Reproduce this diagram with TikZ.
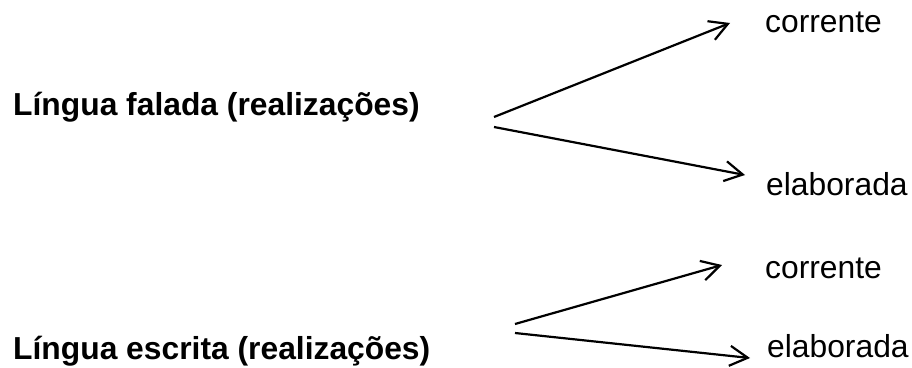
\documentclass[tikz,border=0pt]{standalone}
\usepackage{fontspec}
\setmainfont{Liberation Sans}
\usetikzlibrary{arrows.meta}

\begin{document}
\begin{tikzpicture}[%
  x=1pt, y=-1pt,
  title/.style={anchor=base west, inner sep=0pt, font=\fontsize{31.8}{38}\selectfont\bfseries},
  kind/.style={anchor=base west, inner sep=0pt, font=\fontsize{31.8}{38}\selectfont},
  branch/.style={line width=2.2pt, -{Straight Barb[length=18pt,width=20pt,line width=2.2pt]}}]
\useasboundingbox (0,0) rectangle (912,367);

% realizacoes da lingua falada
\node[title] (falada) at (13,115) {Língua falada (realizações)};
\node[kind] (corrente1) at (765,32) {corrente};
\node[kind] (elaborada1) at (766,195) {elaborada};
\coordinate (fa1) at (494,117);
\coordinate (fa2) at (494,127);
\coordinate (fc) at (730,23);
\coordinate (fe) at (745,175);
\draw[branch] (fa1) -- (fc);
\draw[branch] (fa2) -- (fe);

% realizacoes da lingua escrita
\node[title] (escrita) at (13,359) {Língua escrita (realizações)};
\node[kind] (corrente2) at (765,278) {corrente};
\node[kind] (elaborada2) at (767,357) {elaborada};
\coordinate (es1) at (515,324);
\coordinate (es2) at (515,333);
\coordinate (ec) at (722,265);
\coordinate (ee) at (750,358);
\draw[branch] (es1) -- (ec);
\draw[branch] (es2) -- (ee);
\end{tikzpicture}
\end{document}
